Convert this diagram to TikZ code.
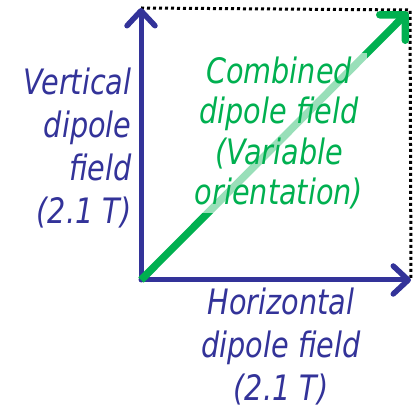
\documentclass[tikz,border=0pt]{standalone}
\usepackage{fontspec}
\newfontfamily\slidefont{DejaVu Sans}[FakeStretch=0.82]
\usepackage{tikz}
\usetikzlibrary{arrows.meta,positioning}
\definecolor{dipoleblue}{RGB}{51,51,153}
\definecolor{dipolegreen}{RGB}{0,176,80}

\begin{document}
\begin{tikzpicture}[x=1pt, y=-1pt,
  field/.style={line width=5pt, draw=dipoleblue, line cap=round,
                -{Straight Barb[length=15pt, width=28pt, line width=5.5pt, round]}},
  combined/.style={line width=7.5pt, draw=dipolegreen,
                -{Straight Barb[length=18pt, width=36pt, line width=7.5pt, round]}},
  bound/.style={draw=black, line width=3pt, dash pattern=on 3pt off 3pt},
  blbl/.style={font=\slidefont\itshape\fontsize{35}{43}\selectfont, text=dipoleblue},
  glbl/.style={font=\slidefont\itshape\fontsize{35}{40.5}\selectfont, text=dipolegreen,
               align=center, fill=white, fill opacity=0.6, text opacity=1, inner sep=4pt}
]
\useasboundingbox (0,0) rectangle (418,411);

\coordinate (origin) at (141,280);
\coordinate (vtop)   at (141,8);
\coordinate (hend)   at (411,280);
\coordinate (corner) at (410,10);

% dotted outline of the field square
\draw[bound] (vtop) -- (corner) -- (hend);

% the two dipole fields
\draw[field] (origin) -- (vtop);
\draw[field] (origin) -- (hend);

% their sum
\draw[combined, shorten >=3pt] (origin) -- (corner);

\node[blbl, align=right, anchor=east] (vlabel) at (135,148)
  {Vertical\\dipole\\field\\(2.1 T)};
\node[blbl, align=center] (hlabel) at (281,347)
  {Horizontal\\dipole field\\(2.1 T)};
\node[glbl] (clabel) at (279,133)
  {Combined\\dipole field\\(Variable\\orientation)};
\end{tikzpicture}
\end{document}
